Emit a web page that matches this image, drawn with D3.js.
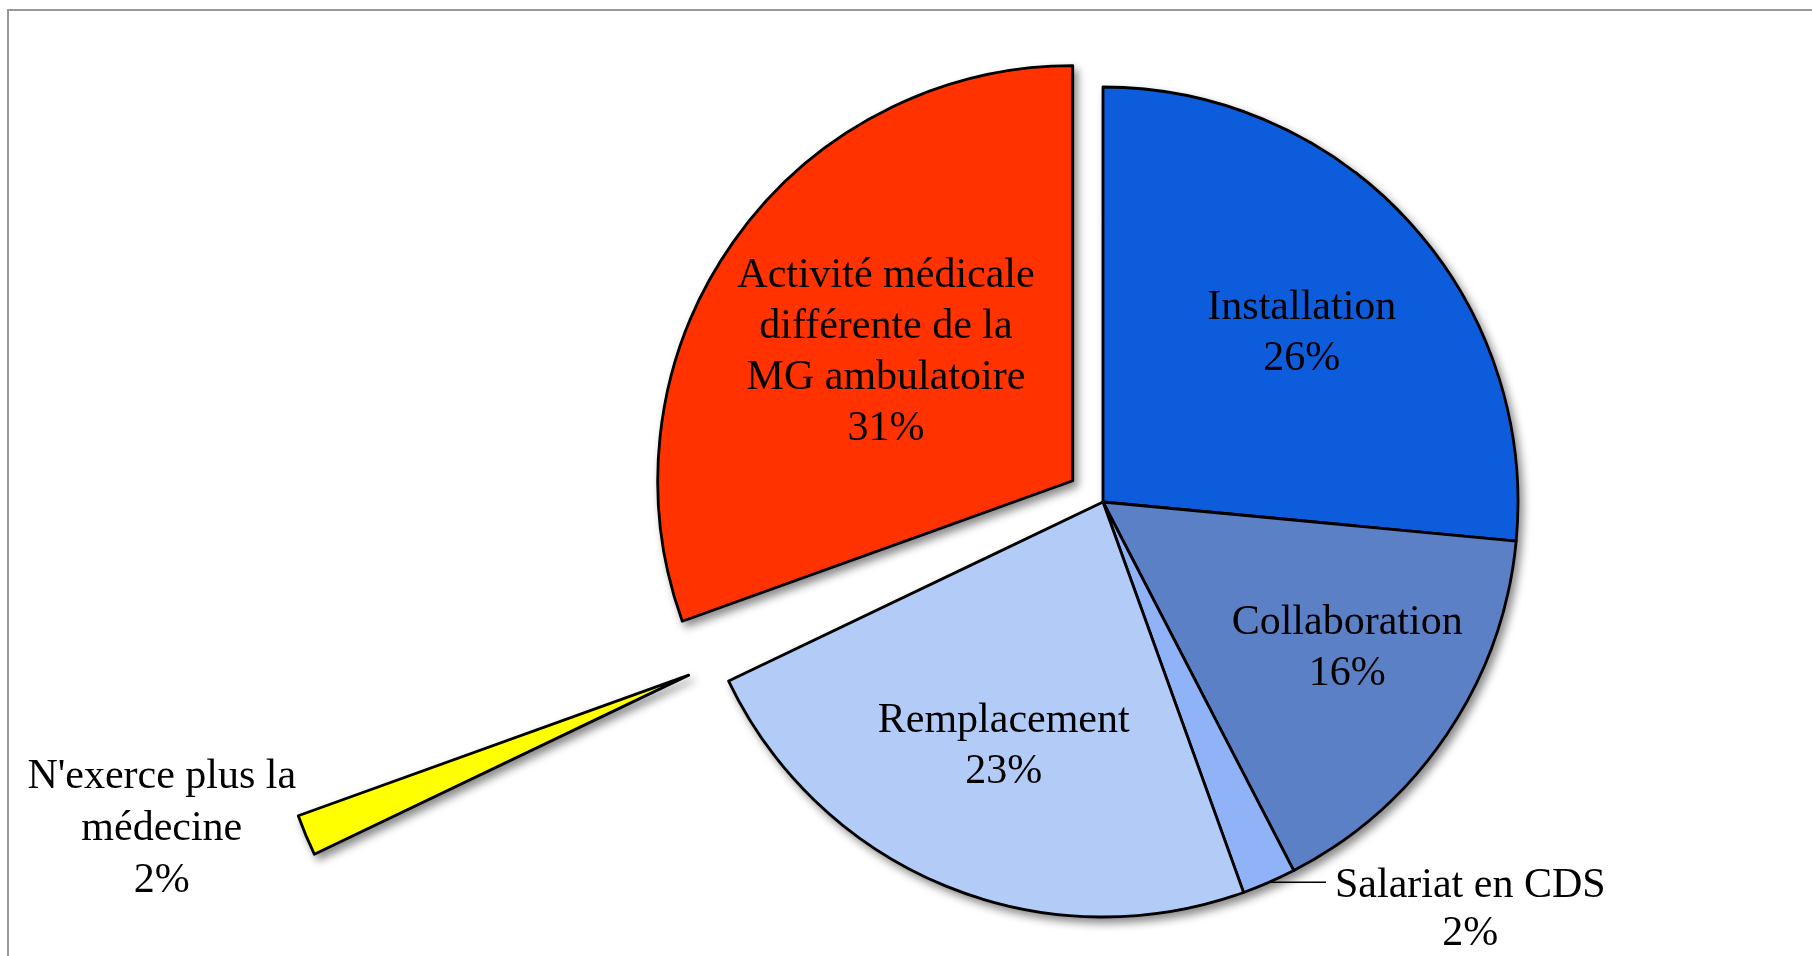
<!DOCTYPE html>
<html>
<head>
<meta charset="utf-8">
<script src="https://cdn.jsdelivr.net/npm/d3@7"></script>
<style>
  body { margin: 0; background: #fff; }
  svg { display: block; }
  text { font-family: "Liberation Serif", "Times New Roman", serif; font-size: 42px; fill: #000; }
</style>
</head>
<body>
<svg width="1812" height="956"></svg>
<script>
// data (clockwise from 12 o'clock)
var categories = ["Installation", "Collaboration", "Salariat en CDS", "Remplacement",
                  "N'exerce plus la médecine", "Activité médicale différente de la MG ambulatoire"];
var values = [26.5, 15.9, 2.1, 23.4, 1.6, 30.5];
var pctLabels = ["26%", "16%", "2%", "23%", "2%", "31%"];
var labelLines = [["Installation"], ["Collaboration"], ["Salariat en CDS"], ["Remplacement"],
                  ["N'exerce plus la", "médecine"], ["Activité médicale", "différente de la", "MG ambulatoire"]];

// styling, kept apart from the data
var colors = ["#0f5bdc", "#5b80c6", "#8fb3f6", "#b3ccf7", "#ffff00", "#ff3300"];
var explode = [0, 0, 0, 0, 449, 37];          // px the slice is pulled out
var labelRadius = [0.632, 0.683, null, 0.63, null, 0.55]; // inner labels, fraction of R
var labelNudge = [1.6, -3.5, 0, 0, 0, 0];     // degrees, label angle vs slice mid angle

var svg = d3.select("svg"),
    width = +svg.attr("width"),
    height = +svg.attr("height");

var cx = 1103, cy = 502, R = 415, lineH = 51;

// frame round the chart area
svg.append("rect")
  .attr("x", 8).attr("y", 10)
  .attr("width", width).attr("height", height)
  .attr("fill", "none")
  .attr("stroke", "#999")
  .attr("stroke-width", 2);

var defs = svg.append("defs");
var shadow = defs.append("filter").attr("id", "shadow")
  .attr("x", "-20%").attr("y", "-20%").attr("width", "140%").attr("height", "140%");
shadow.append("feDropShadow")
  .attr("dx", 4).attr("dy", 5)
  .attr("stdDeviation", 4)
  .attr("flood-color", "#000")
  .attr("flood-opacity", 0.45);

var pie = d3.pie().sort(null).value(function (d) { return d; });
var arcs = pie(values);
var arc = d3.arc().innerRadius(0).outerRadius(R);

function dir(a) { return [Math.sin(a), -Math.cos(a)]; }
function midAngle(d) { return (d.startAngle + d.endAngle) / 2; }
function offset(d, i) {
  var v = dir(midAngle(d));
  return [cx + v[0] * explode[i], cy + v[1] * explode[i]];
}

var g = svg.append("g").attr("filter", "url(#shadow)");

g.selectAll("path")
  .data(arcs)
  .enter().append("path")
  .attr("transform", function (d, i) { var o = offset(d, i); return "translate(" + o[0] + "," + o[1] + ")"; })
  .attr("d", arc)
  .attr("fill", function (d, i) { return colors[i]; })
  .attr("stroke", "#000")
  .attr("stroke-width", 2.8)
  .attr("stroke-linejoin", "round");

var labels = svg.append("g");

arcs.forEach(function (d, i) {
  var o = offset(d, i);
  var v = dir(midAngle(d));
  var lines = labelLines[i].concat([pctLabels[i]]);

  if (labelRadius[i] != null) {
    // label inside the slice, block centred on a point near the mid angle
    var lv = dir(midAngle(d) + labelNudge[i] * Math.PI / 180);
    var px = o[0] + lv[0] * R * labelRadius[i],
        py = o[1] + lv[1] * R * labelRadius[i];
    var t = labels.append("text").attr("text-anchor", "middle");
    lines.forEach(function (s, k) {
      t.append("tspan")
        .attr("x", px)
        .attr("y", py + (k - (lines.length - 1) / 2) * lineH + 14)
        .text(s);
    });
  } else if (explode[i] > 0) {
    // far pulled slice: label sits left of its outer edge
    var ox = o[0] + v[0] * R, oy = o[1] + v[1] * R;
    var t2 = labels.append("text").attr("text-anchor", "middle");
    lines.forEach(function (s, k) {
      t2.append("tspan")
        .attr("x", ox - 144)
        .attr("y", oy + 5 + (k - 1) * 52)
        .text(s);
    });
  } else {
    // small slice with a leader line
    var rx = o[0] + v[0] * R, ry = o[1] + v[1] * R;
    labels.append("line")
      .attr("x1", rx).attr("y1", ry)
      .attr("x2", rx + 57).attr("y2", ry)
      .attr("stroke", "#000").attr("stroke-width", 1.5);
    var first = labels.append("text")
      .attr("x", rx + 66).attr("y", ry + 15)
      .text(lines[0]);
    var w = first.node().getComputedTextLength();
    labels.append("text")
      .attr("text-anchor", "middle")
      .attr("x", rx + 66 + w / 2).attr("y", ry + 63)
      .text(lines[1]);
  }
});
</script>
</body>
</html>
